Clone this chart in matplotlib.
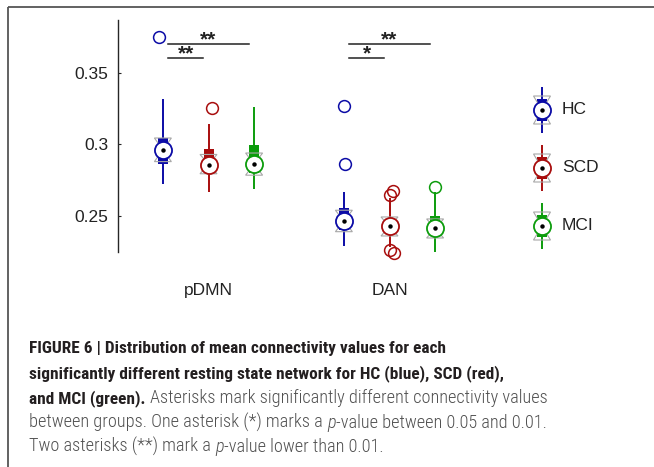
import matplotlib
matplotlib.use('Agg')
import matplotlib.pyplot as plt
from matplotlib.patches import Polygon
from matplotlib import font_manager

plt.rcParams['font.family'] = 'Liberation Sans'

# ---------------- data ----------------
categories = ['pDMN', 'DAN']
groups = ['HC', 'SCD', 'MCI']
group_colors = ['#0b0ba6', '#a80d0d', '#0c9c0c']

whisker_low = [[0.2724, 0.2670, 0.2687], [0.2290, 0.2285, 0.2243]]
q1 = [[0.2862, 0.2800, 0.2800], [0.2400, 0.2380, 0.2380]]
median = [[0.2962, 0.2857, 0.2862], [0.2465, 0.2430, 0.2416]]
q3 = [[0.3045, 0.2965, 0.2997], [0.2555, 0.2480, 0.2497]]
whisker_high = [[0.3318, 0.3141, 0.3260], [0.2670, 0.2625, 0.2665]]
notch_low = [[0.2880, 0.2795, 0.2785], [0.2390, 0.2360, 0.2346]]
notch_high = [[0.3045, 0.2930, 0.2940], [0.2540, 0.2493, 0.2479]]
outliers = [[[0.375], [0.3257], []],
            [[0.3271, 0.2864], [0.2675, 0.2647, 0.2262, 0.2243], [0.2705]]]
outlier_jitter = [[[-0.02], [0.022], []],
                  [[0.0, 0.005], [0.022, 0.0, 0.0, 0.027], [0.0]]]

# significance: (category index, group a, group b, label, level)
sig_pairs = [(0, 0, 2, '**', 1), (0, 0, 1, '**', 0),
             (1, 0, 2, '**', 1), (1, 0, 1, '*', 0)]
sig_levels = [0.3603, 0.3703]

yticks = [0.25, 0.3, 0.35]
ytick_labels = ['0.25', '0.3', '0.35']

caption_lines = [
    [("FIGURE 6 | Distribution of mean connectivity values for each", 'b')],
    [("significantly different resting state network for HC (blue), SCD (red),", 'b')],
    [("and MCI (green).", 'b'), ("Asterisks mark significantly different connectivity values", 'r')],
    [("between groups. One asterisk (*) marks a", 'r'), ("p", 'i'), ("-value between 0.05 and 0.01.", 'r')],
    [("Two asterisks (**) mark a", 'r'), ("p", 'i'), ("-value lower than 0.01.", 'r')],
]

# ---------------- figure ----------------
W, H = 654, 467
fig = plt.figure(figsize=(W / 100, H / 100), dpi=100)
fig.patch.set_facecolor('white')

def fx(px):
    return px / W

def fy(py):
    return 1 - py / H

ax_l, ax_r, ax_t, ax_b = 118, 480, 20, 252
ax = fig.add_axes([fx(ax_l), fy(ax_b), fx(ax_r) - fx(ax_l), fy(ax_t) - fy(ax_b)])
ax.set_xlim(0.5, 2.5)
ax.set_ylim(0.2248, 0.387)
for s in ['top', 'right', 'bottom']:
    ax.spines[s].set_visible(False)
ax.spines['left'].set_color('#262626')
ax.spines['left'].set_linewidth(1.0)
ax.set_xticks([])
ax.set_yticks(yticks)
ax.set_yticklabels(ytick_labels, family='Liberation Sans')
ax.tick_params(axis='y', direction='in', length=2.5, width=0.8, color='#262626',
               labelsize=12.5, labelcolor='#222222', pad=7)
ax.patch.set_alpha(0)

group_offset = 0.252
sx = 1.0 / 181.0   # data units per px in x
sy = 0.05 / 71.5   # data units per px in y


def draw_box(a, x, wl, b1, md, b3, wh, nl, nh, color, dx, z=2):
    a.plot([x, x], [wl, wh], color=color, lw=1.4, zorder=z, solid_capstyle='butt')
    a.plot([x, x], [b1, b3], color=color, lw=7.2, zorder=z + 0.1, solid_capstyle='butt')
    mid = (nl + nh) / 2
    hw = 8.5 * dx
    a.add_patch(Polygon([[x - hw, nh], [x + hw, nh], [x, mid]], closed=True,
                        fill=False, ec='#a8a8a8', lw=0.8, zorder=z + 0.2))
    a.add_patch(Polygon([[x - hw, nl], [x + hw, nl], [x, mid]], closed=True,
                        fill=False, ec='#a8a8a8', lw=0.8, zorder=z + 0.2))
    a.plot([x], [md], marker='o', ms=12.3, mfc='white', mec=color, mew=1.3,
           zorder=z + 0.3, ls='none')
    a.plot([x], [md], marker='o', ms=3.2, mfc='black', mec='black', mew=0,
           zorder=z + 0.4, ls='none')


for ci in range(len(categories)):
    for gi in range(len(groups)):
        x = ci + 1 + (gi - 1) * group_offset
        col = group_colors[gi]
        draw_box(ax, x, whisker_low[ci][gi], q1[ci][gi], median[ci][gi], q3[ci][gi],
                 whisker_high[ci][gi], notch_low[ci][gi], notch_high[ci][gi], col, sx)
        for v, j in zip(outliers[ci][gi], outlier_jitter[ci][gi]):
            ax.plot([x + j], [v], marker='o', ms=8.5, mfc='none', mec=col, mew=1.1,
                    ls='none', zorder=3, clip_on=False)
    ax.text(ci + 1, -0.168, categories[ci], transform=ax.get_xaxis_transform(),
            ha='center', va='center', fontsize=12.5, color='#222222', family='Liberation Sans')

for ci, ga, gb, lab, lev in sig_pairs:
    xa = ci + 1 + (ga - 1) * group_offset + 0.03
    xb = ci + 1 + (gb - 1) * group_offset - 0.03
    y = sig_levels[lev]
    ax.plot([xa, xb], [y, y], color='#222222', lw=1.1, clip_on=False)
    ax.text((xa + xb) / 2, y - 1.5 * sy, lab, ha='center', va='baseline', fontsize=15,
            fontweight='bold', color='#222222', family='Liberation Sans')

# ---------------- overlay (legend, border, caption) ----------------
ov = fig.add_axes([0, 0, 1, 1])
ov.set_xlim(0, W)
ov.set_ylim(H, 0)
ov.axis('off')
ov.patch.set_alpha(0)

legend_y = [110, 168, 226]
for gi, g in enumerate(groups):
    cy = legend_y[gi]
    draw_box(ov, 542, cy + 23, cy + 11, cy, cy - 11, cy - 23, cy + 14, cy - 14,
             group_colors[gi], 1.0)
    ov.text(562, cy, g, ha='left', va='center', fontsize=12.5, color='#222222',
            family='Liberation Sans')

ov.plot([7.5, W], [6.5, 6.5], color='#555555', lw=1.3, solid_capstyle='butt')
ov.plot([7.5, 7.5], [6.5, H], color='#555555', lw=1.3, solid_capstyle='butt')

# caption: prefer a condensed family when one is installed
available = {f.name for f in font_manager.fontManager.ttflist}
cap_family = next((f for f in ['Roboto Condensed', 'Liberation Sans Narrow', 'Liberation Sans']
                   if f in available), 'DejaVu Sans')

renderer = fig.canvas.get_renderer()
styles = {
    'b': dict(fontweight='bold', color='#231f20'),
    'r': dict(fontweight='light', color='#505050'),
    'i': dict(fontweight='light', fontstyle='italic', color='#505050'),
}


def text_width(s, fs, st):
    t = ov.text(0, 0, s, fontsize=fs, family=cap_family, **styles[st])
    w = t.get_window_extent(renderer).width
    t.remove()
    return w


fs_b = 14 * 415 / text_width(caption_lines[0][0][0], 14, 'b')
fs_r = 14 * 517 / (text_width("between groups. One asterisk (*) marks a p-value between 0.05 and 0.01.", 14, 'r'))
fs_of = {'b': fs_b, 'r': fs_r, 'i': fs_r}

baselines = [353, 378, 403, 427.5, 452]
x0 = 29
for line, by in zip(caption_lines, baselines):
    xc = x0
    for k, (s, st) in enumerate(line):
        fs = fs_of[st]
        if k > 0 and not s.startswith('-') and not (line[k - 1][0] == 'p' and line[k - 1][1] == 'i'):
            sp = text_width('a a', fs, st) - text_width('aa', fs, st)
            xc += sp
        t = ov.text(xc, by, s, fontsize=fs, family=cap_family, ha='left', va='baseline', **styles[st])
        xc += t.get_window_extent(renderer).width

fig.savefig('out.png', dpi=100)
